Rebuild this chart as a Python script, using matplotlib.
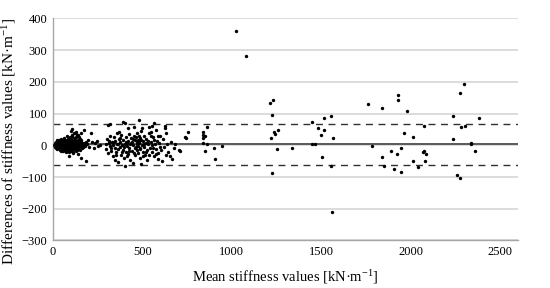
import numpy as np
import matplotlib
matplotlib.use("Agg")
import matplotlib.pyplot as plt

plt.rcParams["mathtext.fontset"] = "custom"
plt.rcParams["mathtext.rm"] = "Liberation Serif"
plt.rcParams["mathtext.it"] = "Liberation Serif:italic"

# Bland-Altman: (mean stiffness, difference) pairs
low_points = [
    (8, 2), (11, -4), (14, 6), (16, 0), (17, -8), (19, 4), (20, 10), (22, -2), (23, -12), (25, 7),
    (26, 1), (28, -6), (29, 14), (31, 3), (33, -10), (34, 9), (36, -3), (37, 17), (39, 5), (40, -15),
    (42, 0), (43, 12), (45, -7), (47, 20), (48, 2), (50, -13), (51, 8), (53, -4), (54, 15), (56, -18),
    (57, 4), (59, -9), (60, 11), (62, 24), (64, 0), (65, -14), (67, 6), (68, 18), (70, -5), (71, 10),
    (73, -20), (74, 3), (76, 14), (78, -10), (79, 28), (81, 1), (82, -16), (84, 8), (85, 21), (87, -6),
    (88, 12), (90, -2), (91, -22), (93, 16), (95, 5), (96, -11), (98, 26), (99, -1), (101, 10), (102, -17),
    (104, 19), (105, 4), (107, -8), (109, 31), (110, 13), (112, -3), (113, -24), (115, 7), (116, 22),
    (118, -12), (119, 2), (121, 15), (122, -6), (124, 40), (126, 9), (127, -19), (129, 25), (130, -2),
    (132, 11), (133, -14), (135, 34), (136, 5), (138, -9), (140, 18), (141, -28), (143, 1), (144, 14),
    (146, -5), (147, 27), (149, 8), (150, -16), (152, 20), (155, -3), (158, 12), (161, 5), (164, -10),
    (167, 3), (170, -4),
    (102, 45), (108, 30), (110, 52), (114, -20), (118, 38), (130, 42), (139, 32), (157, 39), (157, -40),
    (172, 8), (176, 47), (180, -2), (185, 12), (188, -50), (192, 4), (198, 18), (205, -5), (213, 39),
    (220, 10), (228, -8), (236, 6), (245, 15), (255, -3), (265, 2), (91, -35),
    (19, 1), (28, -1), (37, 3), (43, -2), (53, 1), (59, 5), (68, -1), (74, -4), (84, 0), (90, 6),
    (96, 2), (102, -3), (112, 5), (118, 0), (127, 3), (133, -1), (140, 6), (149, -2), (31, 8), (40, -8),
    (50, 12), (56, -6), (65, 9), (71, -9), (81, 13), (87, -11), (93, 8), (99, -7), (105, 12), (115, -10),
    (121, 7), (130, 14), (136, -12), (146, 9), (155, 12), (164, 5), (170, -6), (25, 18), (47, -17),
    (62, 20), (76, -14), (95, 22), (110, -15), (124, 18), (142, -13), (160, 16), (178, 3),
]

mid_points = [
    (295, 5), (300, -12), (305, 20), (307, 63), (310, -25), (315, 8), (318, -3), (320, 67), (322, 30),
    (325, -18), (330, 12), (335, -35), (338, 2), (340, 25), (345, -8), (348, -45), (350, 15), (355, -22),
    (358, 40), (360, 3), (363, -12), (365, -52), (368, 20), (371, 43), (373, -5), (376, 10), (380, -30),
    (383, 32), (386, 0), (390, 72), (392, -15), (395, 18), (398, -40), (401, 71), (403, 5), (405, -64),
    (408, 25), (410, -20), (413, 8), (415, -2), (418, 54), (420, -28), (422, 14), (425, 35), (428, -10),
    (430, -45), (433, 4), (436, 22), (440, -18), (443, 11), (446, -55), (450, 0), (453, 30), (456, 59),
    (458, -8), (460, 18), (462, -32), (465, 27), (468, 5), (470, -15), (472, 40), (474, 17), (476, -25),
    (478, -2), (480, 81), (482, 10), (484, 6), (486, -40), (488, 24), (490, -12), (492, 45), (495, -58),
    (497, 2), (499, 56), (502, -20), (505, 15), (508, -5), (512, 30), (515, -30), (518, 8), (522, 20),
    (525, -15), (528, -45), (532, 3), (536, 38), (540, 59), (543, -8), (546, 12), (550, 43), (552, -22),
    (556, 0), (557, 62), (560, 25), (563, -35), (567, 69), (570, 5), (574, -12), (578, 49), (582, 15),
    (586, -25), (590, -42), (595, 8), (600, 30), (605, -15), (610, -50), (615, 20), (620, -5), (625, 56),
    (627, 62), (630, -30), (634, 38), (640, 5), (645, -20), (655, -35), (660, 10), (668, -42), (675, -8),
    (685, 3),
    (312, 15), (328, -8), (343, 10), (352, -30), (366, 5), (378, 22), (388, -20), (397, -5), (407, 12),
    (417, -35), (426, -18), (438, 8), (448, 20), (455, -25), (463, -5), (471, 12), (479, 30), (487, -8),
    (494, 18), (503, -35), (510, 5), (520, -22), (530, 14), (538, -30), (548, 28), (558, -10),
    (565, 18), (576, -28), (588, 30), (598, -5),
]

high_points = [
    (707, -15), (712, -17), (739, 25), (743, 23), (756, 43), (837, 24), (839, 33), (841, 43), (848, 30),
    (862, 58), (837, 8), (861, 3), (852, -18), (899, -9), (909, -42), (943, -1),
    (1025, 359), (1078, 283), (1211, 133), (1233, 143), (1226, 94), (1236, 42), (1241, 37), (1260, 47),
    (1217, 24), (1252, -13), (1226, -87), (1339, -7), (1450, 72), (1514, 85), (1481, 54), (1514, 47),
    (1498, 33), (1450, 4), (1465, 4), (1502, -37), (1553, 92), (1563, 24), (1555, -66), (1560, -209),
    (1760, 130), (1839, 119), (1929, 160), (1931, 142), (1980, 107), (1964, 38), (2011, 25), (1782, -3),
    (1837, -38), (1887, -18), (1925, -26), (1946, -8), (1848, -66), (1904, -75), (1948, -83), (2010, -50),
    (2040, -67),
    (2295, 192), (2274, 164), (2235, 91), (2380, 85), (2073, 62), (2280, 58), (2303, 61), (2235, 19),
    (2335, 8), (2337, 4), (2357, -17), (2068, -20), (2075, -17), (2087, -28), (2079, -50), (2259, -94),
    (2276, -104),
]

bias = 4
upper_loa = 68.5
lower_loa = -61

x_ticks = [0, 500, 1000, 1500, 2000, 2500]
y_ticks = [-300, -200, -100, 0, 100, 200, 300, 400]

pts = np.array(low_points + mid_points + high_points, dtype=float)

fig = plt.figure(figsize=(5.5, 2.88), dpi=100)
ax = fig.add_axes([0.096, 0.165, 0.846, 0.771])

for y in y_ticks:
    ax.axhline(y, color="#d9d9d9", lw=1.3, zorder=0)
ax.axhline(bias, color="#595959", lw=1.4, zorder=1)
ax.axhline(upper_loa, color="#303030", lw=1.0, ls=(0, (5, 4)), zorder=1)
ax.axhline(lower_loa, color="#303030", lw=1.0, ls=(0, (5, 4)), zorder=1)

ax.scatter(pts[:, 0], pts[:, 1], s=6, color="black", linewidths=0, zorder=3)

ax.set_xlim(0, 2600)
ax.set_ylim(-300, 400)
ax.set_xticks(x_ticks)
ax.set_yticks(y_ticks)
ax.tick_params(length=0, labelsize=9, pad=4)
for lab in ax.get_xticklabels() + ax.get_yticklabels():
    lab.set_family("Liberation Serif")

for s in ["top", "right"]:
    ax.spines[s].set_visible(False)
for s in ["left", "bottom"]:
    ax.spines[s].set_color("#a6a6a6")
    ax.spines[s].set_linewidth(1.0)

ax.set_xlabel("Mean stiffness values [kN·m$^{\\mathregular{-1}}$]", family="Liberation Serif",
              fontsize=10.5, labelpad=7)
ax.set_ylabel("Differences of stiffness values [kN·m$^{\\mathregular{-1}}$]", family="Liberation Serif",
              fontsize=11)
ax.yaxis.set_label_coords(-0.075, 0.445)

fig.savefig("out.png", dpi=100)
